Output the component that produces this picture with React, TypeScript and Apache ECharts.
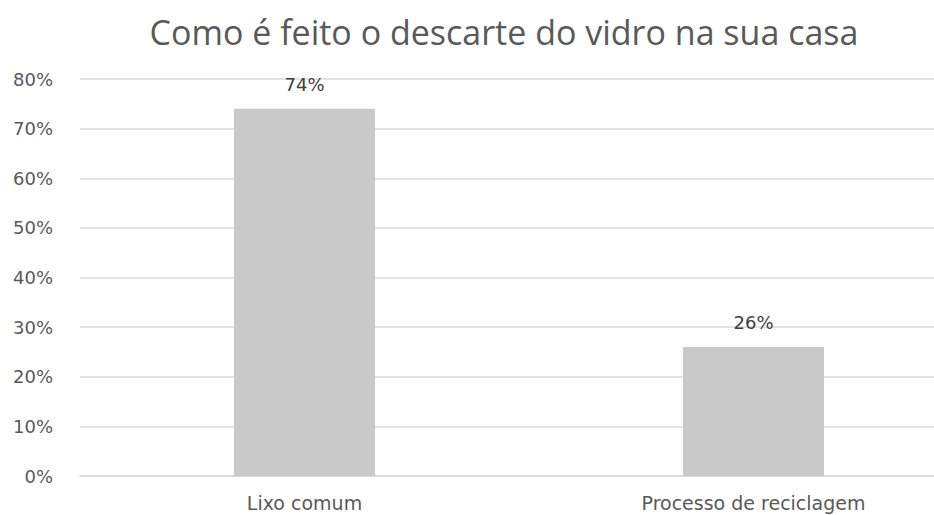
import React, { useEffect, useRef } from "react";
import * as echarts from "echarts";

const categories = ["Lixo comum", "Processo de reciclagem"];
const values = [74, 26];
const yTicks = [0, 10, 20, 30, 40, 50, 60, 70, 80];
const title = "Como é feito o descarte do vidro na sua casa";

export default function App() {
  const ref = useRef<HTMLDivElement>(null);
  useEffect(() => {
    document.body.style.margin = "0";
    const chart = echarts.init(ref.current!, null, { renderer: "svg" });
    chart.setOption({
      animation: false,
      backgroundColor: "#ffffff",
      title: {
        text: title,
        left: 499,
        textAlign: "center",
        top: 10,
        textStyle: { fontFamily: "Open Sans", fontSize: 34, fontWeight: "normal", color: "#595959" },
      },
      grid: { left: 80, top: 79, width: 898, height: 397, outerBoundsMode: "none", containLabel: false },
      xAxis: {
        type: "category",
        data: categories,
        axisLine: { show: true, lineStyle: { color: "#d9d9d9", width: 1.5 } },
        axisTick: { show: false },
        axisLabel: { fontFamily: "DejaVu Sans", fontSize: 19, color: "#595959", margin: 17 },
      },
      yAxis: {
        type: "value",
        min: yTicks[0],
        max: yTicks[yTicks.length - 1],
        interval: 10,
        axisLine: { show: false },
        axisTick: { show: false },
        splitLine: { lineStyle: { color: "#d9d9d9", width: 1.5 } },
        axisLabel: { fontFamily: "DejaVu Sans", fontSize: 18, color: "#595959", margin: 27, formatter: "{value}%" },
      },
      series: [
        {
          type: "bar",
          data: values,
          barWidth: 141,
          itemStyle: { color: "#c9c9c9" },
          label: {
            show: true,
            position: "top",
            distance: 15,
            formatter: "{c}%",
            fontFamily: "DejaVu Sans",
            fontSize: 18,
            color: "#404040",
          },
        },
      ],
    });
    return () => chart.dispose();
  }, []);
  return <div ref={ref} style={{ width: 934, height: 515 }} />;
}
